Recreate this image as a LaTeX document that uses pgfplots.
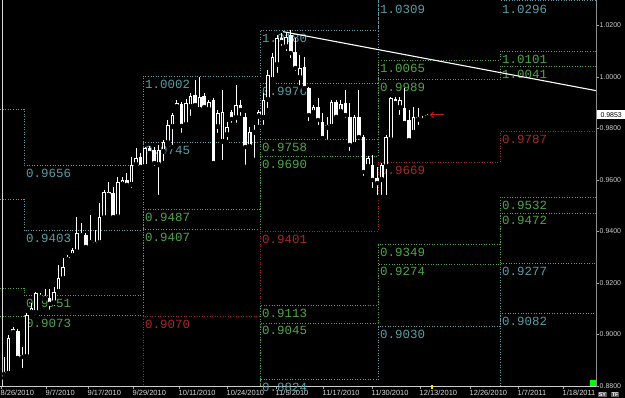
\documentclass[border=0pt]{standalone}
\usepackage{fontspec}
\setmainfont{Liberation Sans}
\newfontfamily\lcd{Liberation Mono}
\usepackage{pgfplots}
\pgfplotsset{compat=1.18}
\usepackage{pgfplotstable}
\usetikzlibrary{arrows.meta,calc,backgrounds}

\definecolor{lvc}{RGB}{88,158,165}
\definecolor{lvg}{RGB}{80,165,75}
\definecolor{lvr}{RGB}{168,40,40}
\definecolor{arr}{RGB}{190,30,30}

% monthly pivot levels (value held from x to next x)
\pgfplotstableread{
x   R4     R3     R2     R1     P      S1     S2     S3     S4
0   0.9876 0.9526 0.9181 0.9072 0.8612 0.8300 0.8200 0.7900 0.7600
24  0.9656 0.9403 0.9151 0.9073 0.8743 0.8420 0.8340 0.8090 0.7840
143 1.0002 0.9745 0.9487 0.9407 0.9070 0.8733 0.8653 0.8395 0.8138
260 1.0180 0.9976 0.9758 0.9690 0.9401 0.9113 0.9045 0.8824 0.8622
378 1.0550 1.0309 1.0065 0.9989 0.9669 0.9349 0.9274 0.9030 0.8790
500 1.0492 1.0296 1.0101 1.0041 0.9787 0.9532 0.9472 0.9277 0.9082
596 1.0492 1.0296 1.0101 1.0041 0.9787 0.9532 0.9472 0.9277 0.9082
}\levels

% daily candles: x position, open, high, low, close
\pgfplotstableread{
x o h l c
4.0 0.8856 0.8913 0.8831 0.8847
8.6 0.8847 0.8998 0.8843 0.8987
13.1 0.9022 0.9029 0.9002 0.9010
17.7 0.9014 0.9022 0.8905 0.8909
22.2 0.8913 0.8952 0.8862 0.8921
26.8 0.8913 0.9084 0.8909 0.9076
31.3 0.9084 0.9122 0.9068 0.9103
35.9 0.9084 0.9165 0.9068 0.9161
40.4 0.9142 0.9161 0.9134 0.9154
45.0 0.9150 0.9177 0.9138 0.9142
49.5 0.9142 0.9177 0.9088 0.9119
54.0 0.9122 0.9185 0.9103 0.9165
58.6 0.9165 0.9270 0.9161 0.9220
63.2 0.9216 0.9297 0.9212 0.9262
67.7 0.9289 0.9309 0.9282 0.9301
72.3 0.9305 0.9336 0.9301 0.9328
76.8 0.9320 0.9456 0.9317 0.9394
81.4 0.9394 0.9433 0.9375 0.9386
85.9 0.9386 0.9394 0.9328 0.9340
90.5 0.9355 0.9464 0.9348 0.9367
95.0 0.9352 0.9406 0.9348 0.9359
99.6 0.9355 0.9511 0.9352 0.9456
104.1 0.9452 0.9561 0.9445 0.9553
108.7 0.9553 0.9592 0.9534 0.9542
113.2 0.9550 0.9573 0.9452 0.9456
117.8 0.9456 0.9612 0.9452 0.9592
122.3 0.9581 0.9612 0.9573 0.9600
126.9 0.9600 0.9627 0.9573 0.9581
131.4 0.9581 0.9689 0.9561 0.9658
136.0 0.9658 0.9724 0.9651 0.9686
140.5 0.9689 0.9705 0.9647 0.9651
145.1 0.9651 0.9728 0.9647 0.9724
149.6 0.9724 0.9732 0.9693 0.9705
154.2 0.9717 0.9728 0.9647 0.9666
158.7 0.9658 0.9736 0.9534 0.9717
163.3 0.9709 0.9755 0.9666 0.9748
167.8 0.9744 0.9833 0.9736 0.9814
172.4 0.9806 0.9860 0.9728 0.9852
176.9 0.9883 0.9911 0.9880 0.9899
181.5 0.9895 0.9903 0.9775 0.9810
186.0 0.9814 0.9915 0.9806 0.9899
190.6 0.9883 0.9938 0.9841 0.9926
195.1 0.9930 0.9988 0.9883 0.9891
199.7 0.9872 1.0000 0.9864 0.9922
204.2 0.9926 0.9938 0.9872 0.9883
208.8 0.9872 0.9911 0.9864 0.9903
213.3 0.9911 0.9918 0.9658 0.9666
217.9 0.9806 0.9872 0.9775 0.9860
222.4 0.9748 0.9950 0.9670 0.9864
227.0 0.9775 0.9825 0.9748 0.9806
231.5 0.9864 0.9872 0.9814 0.9837
236.0 0.9841 0.9969 0.9814 0.9891
240.6 0.9891 0.9911 0.9841 0.9872
245.2 0.9845 0.9860 0.9651 0.9728
249.7 0.9728 0.9806 0.9724 0.9786
254.3 0.9783 0.9814 0.9678 0.9794
258.8 0.9845 0.9872 0.9806 0.9864
263.4 0.9841 0.9938 0.9806 0.9911
267.9 0.9911 1.0027 0.9872 1.0008
272.5 0.9988 1.0093 0.9977 1.0078
277.0 1.0047 1.0163 1.0008 1.0151
281.6 1.0151 1.0171 1.0113 1.0136
286.1 1.0116 1.0175 1.0093 1.0155
290.7 1.0163 1.0183 1.0066 1.0093
295.2 1.0097 1.0151 1.0016 1.0035
299.8 0.9996 1.0085 0.9961 1.0035
304.3 1.0039 1.0078 0.9950 0.9957
308.9 0.9957 0.9961 0.9821 0.9852
313.4 0.9860 0.9891 0.9856 0.9883
318.0 0.9883 0.9918 0.9806 0.9833
322.5 0.9825 0.9860 0.9755 0.9763
327.1 0.9802 0.9845 0.9748 0.9814
331.6 0.9806 0.9911 0.9802 0.9903
336.2 0.9903 0.9911 0.9841 0.9845
340.7 0.9864 0.9911 0.9860 0.9895
345.3 0.9899 0.9950 0.9833 0.9852
349.8 0.9845 0.9899 0.9705 0.9736
354.4 0.9736 0.9852 0.9728 0.9845
358.9 0.9845 0.9950 0.9748 0.9767
363.5 0.9767 0.9775 0.9608 0.9631
368.0 0.9651 0.9693 0.9639 0.9686
372.6 0.9658 0.9697 0.9561 0.9600
377.1 0.9608 0.9651 0.9534 0.9588
381.7 0.9600 0.9666 0.9534 0.9658
386.2 0.9651 0.9775 0.9534 0.9767
390.8 0.9755 0.9922 0.9748 0.9918
395.3 0.9915 0.9922 0.9891 0.9899
399.9 0.9880 0.9922 0.9845 0.9911
404.4 0.9880 0.9957 0.9814 0.9821
409.0 0.9833 0.9872 0.9744 0.9755
413.5 0.9783 0.9883 0.9775 0.9845
418.1 0.9833 0.9880 0.9806 0.9845
422.6 0.9841 0.9849 0.9829 0.9833
427.2 0.9841 0.9856 0.9837 0.9853
}\candles

\pgfplotsset{
  lvl/.style={const plot, mark=none, forget plot, line width=0.75bp, dash pattern=on 1bp off 1.6bp},
}
\tikzset{
  lab/.style={anchor=north west, inner sep=0pt, xshift=2bp, yshift=-3.5bp, font=\lcd\fontsize{12.5}{12.5}\selectfont},
}
\newcommand{\lv}[3]{\node[lab,text=#3] at (axis cs:#1,#2) {#2};}

\begin{document}
\begin{tikzpicture}[x=1bp,y=1bp, show background rectangle, inner frame sep=0pt,
   background rectangle/.style={fill=black, draw=none}]
\begin{axis}[
  scale only axis,
  width=596bp, height=386bp,
  xmin=0, xmax=596, ymin=0.8800, ymax=1.0299,
  axis x line*=bottom, axis y line*=right,
  x axis line style={white!80!black, line width=0.8bp},
  y axis line style={white!55!black, line width=0.8bp},
  xtick={1,46,88,133,179,227,276,323,372,420,470,518,563},
  xticklabels={8/26/2010,9/7/2010,9/17/2010,9/29/2010,10/11/2010,10/24/2010,11/5/2010,11/17/2010,11/30/2010,12/13/2010,12/26/2010,1/7/2011,1/18/2011},
  ytick={0.88,0.90,0.92,0.94,0.96,0.98,1.00,1.02},
  scaled y ticks=false,
  tick align=outside, major tick length=3bp,
  tick style={white!65!black, line width=0.6bp},
  yticklabel style={anchor=west, inner sep=0pt, xshift=0.5bp, text=white!80!black,
     font=\fontsize{7}{8}\selectfont,
     /pgf/number format/.cd, fixed, fixed zerofill, precision=4, assume math mode=true},
  xticklabel style={anchor=north west, inner sep=0pt, yshift=-0.8bp, xshift=-0.5bp,
     text=white!85!black, font=\fontsize{7.5}{8}\selectfont},
  clip mode=individual,
]
\coordinate (bl) at (rel axis cs:0,0);
\coordinate (tr) at (rel axis cs:1,1);
% left separator
\addplot[white!85!black, line width=0.8bp, forget plot] coordinates {(2,0.86) (2,1.04)};

% pivot levels
\addplot[lvl, lvc] table[x=x,y=R4] {\levels};
\addplot[lvl, lvc] table[x=x,y=R3] {\levels};
\addplot[lvl, lvg] table[x=x,y=R2] {\levels};
\addplot[lvl, lvg] table[x=x,y=R1] {\levels};
\addplot[lvl, lvr] table[x=x,y=P]  {\levels};
\addplot[lvl, lvg] table[x=x,y=S1] {\levels};
\addplot[lvl, lvg] table[x=x,y=S2] {\levels};
\addplot[lvl, lvc] table[x=x,y=S3] {\levels};
\addplot[lvl, lvc] table[x=x,y=S4] {\levels};

% level labels
\lv{24}{0.9656}{lvc}\lv{24}{0.9403}{lvc}\lv{24}{0.9151}{lvg}\lv{24}{0.9073}{lvg}
\lv{143}{1.0002}{lvc}\lv{143}{0.9745}{lvc}\lv{143}{0.9487}{lvg}\lv{143}{0.9407}{lvg}\lv{143}{0.9070}{lvr}
\lv{260}{1.0180}{lvc}\lv{260}{0.9976}{lvc}\lv{260}{0.9758}{lvg}\lv{260}{0.9690}{lvg}\lv{260}{0.9401}{lvr}
\lv{260}{0.9113}{lvg}\lv{260}{0.9045}{lvg}\lv{260}{0.8824}{lvc}
\node[lab,text=lvc,yshift=-4bp] at (axis cs:378,1.0309) {1.0309};
\lv{378}{1.0065}{lvg}\lv{378}{0.9989}{lvg}\lv{378}{0.9669}{lvr}
\lv{378}{0.9349}{lvg}\lv{378}{0.9274}{lvg}\lv{378}{0.9030}{lvc}
\node[lab,text=lvc,yshift=-1bp] at (axis cs:500,1.0296) {1.0296};
\lv{500}{1.0101}{lvg}\lv{500}{1.0041}{lvg}\lv{500}{0.9787}{lvr}
\lv{500}{0.9532}{lvg}\lv{500}{0.9472}{lvg}\lv{500}{0.9277}{lvc}\lv{500}{0.9082}{lvc}

% candle wicks
\addplot[only marks, mark=none, forget plot,
  error bars/.cd, y dir=plus, y explicit, error mark=none,
  error bar style={line width=0.9bp, white}]
  table[x=x, y=l, y error plus expr={\thisrow{h}-\thisrow{l}}] {\candles};
% candle bodies
\addplot[only marks, mark=none, forget plot,
  error bars/.cd, y dir=plus, y explicit, error mark=none,
  error bar style={line width=3.6bp, white}]
  table[x=x, y expr={min(\thisrow{o},\thisrow{c})},
        y error plus expr={max(abs(\thisrow{c}-\thisrow{o}),0.0003)}] {\candles};
% hollow interior of rising candles
\addplot[only marks, mark=none, forget plot,
  restrict expr to domain={\thisrow{c}-\thisrow{o}}{0.0009:1},
  error bars/.cd, y dir=plus, y explicit, error mark=none,
  error bar style={line width=1.5bp, black}]
  table[x=x, y expr={\thisrow{o}+0.0004},
        y error plus expr={\thisrow{c}-\thisrow{o}-0.0008}] {\candles};

% trend line
\addplot[white, line width=1.1bp, forget plot] coordinates {(283,1.0176) (596,0.9947)};

% current price marker
\draw[arr, line width=0.9bp, -{Straight Barb[length=3bp,width=6bp]}] (axis cs:444,0.9853) -- (axis cs:430,0.9853);
\node[fill=white, text=black, anchor=west, inner sep=0.8bp, minimum width=28bp, minimum height=9bp,
      font=\fontsize{7}{8}\selectfont] at (axis cs:597,0.9853) {0.9853};
% small widgets
\fill[green] (axis cs:590,0.8800) rectangle (axis cs:596,0.8823);
\fill[yellow!90!orange] (axis cs:430.5,0.8789) rectangle (axis cs:433,0.8803);
\end{axis}
\node[fill=white!35!black, text=white, inner sep=0.6bp, font=\fontsize{5.5}{6}\selectfont\bfseries, anchor=south west] at ($(bl)+(598,-11)$) {SY};
\node[fill=white!35!black, text=white, inner sep=0.6bp, font=\fontsize{5.5}{6}\selectfont\bfseries, anchor=south west] at ($(bl)+(611,-11)$) {TF};
\pgfresetboundingbox
\path[use as bounding box] ($(bl)+(0,-12)$) rectangle ($(tr)+(29,0)$);
\end{tikzpicture}
\end{document}
